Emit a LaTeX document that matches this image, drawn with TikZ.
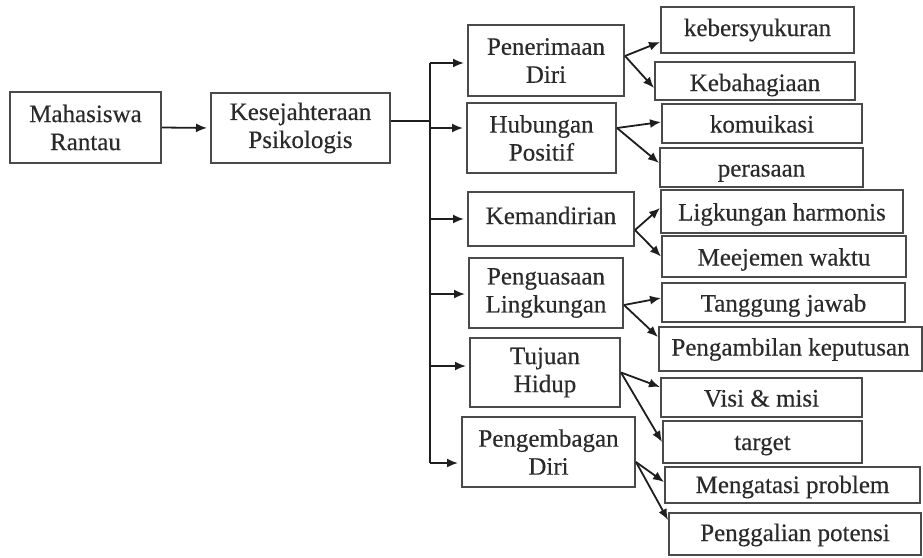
\documentclass[tikz,border=0pt]{standalone}
\usepackage{fontspec}
\setmainfont{Liberation Serif}[FakeBold=0.35]
\usetikzlibrary{arrows.meta}
\definecolor{txt}{HTML}{2A2A2A}
\definecolor{bord}{HTML}{4A4A4A}
\definecolor{ln}{HTML}{1E1E1E}
\begin{document}
\begin{tikzpicture}[x=1pt,y=-1pt,
  box/.style={draw=bord, line width=2pt, fill=white, inner sep=0pt, align=center,
    text=txt, font=\fontsize{25}{28}\selectfont},
  one/.style={box, text height=18pt, text depth=0pt},
  wire/.style={draw=ln, line width=1.8pt},
  arr/.style={wire, -{Latex[length=11pt,width=9pt]}},
  harr/.style={arr, shorten >=3pt}]
\useasboundingbox (0,0) rectangle (923,557);
% main chain
\node[box, minimum width=151pt, minimum height=71pt] (mr) at (85.5,127.5) {Mahasiswa\\Rantau};
\node[box, minimum width=179pt, minimum height=70pt] (kes) at (300.5,128) {Kesejahteraan\\Psikologis};
% aspects
\node[box, minimum width=156pt, minimum height=71pt] (pen) at (546,60.5) {Penerimaan\\Diri};
\node[box, minimum width=149pt, minimum height=70pt] (hub) at (541.5,138) {Hubungan\\Positif};
\node[one, minimum width=166pt, minimum height=54pt, text height=10pt] (kem) at (551,219) {Kemandirian};
\node[box, minimum width=154pt, minimum height=70pt] (pgs) at (546,293) {Penguasaan\\Lingkungan};
\node[box, minimum width=150pt, minimum height=69pt] (tuj) at (545,372.5) {Tujuan\\Hidup};
\node[box, minimum width=173pt, minimum height=70pt] (pgb) at (548.5,452) {Pengembagan\\Diri};
% indicators
\node[one, minimum width=193pt, minimum height=46pt, text height=12pt] (c1) at (757.5,30) {kebersyukuran};
\node[one, minimum width=200pt, minimum height=38pt, text height=20pt] (c2) at (755,81) {Kebahagiaan};
\node[one, minimum width=200pt, minimum height=39pt] (c3) at (762,123.5) {komuikasi};
\node[one, minimum width=203pt, minimum height=39pt] (c4) at (761.5,167.5) {perasaan};
\node[one, minimum width=242pt, minimum height=43pt] (c5) at (782,211.5) {Ligkungan harmonis};
\node[one, minimum width=244pt, minimum height=41pt] (c6) at (784,256.5) {Meejemen waktu};
\node[one, minimum width=243pt, minimum height=39pt] (c7) at (783.5,302.5) {Tanggung jawab};
\node[one, minimum width=263pt, minimum height=44pt, text height=13pt] (c8) at (790.5,349) {Pengambilan keputusan};
\node[one, minimum width=201pt, minimum height=39pt] (c9) at (761.5,397.5) {Visi \& misi};
\node[one, minimum width=199pt, minimum height=42pt, text height=16pt] (c10) at (762.5,442) {target};
\node[one, minimum width=255pt, minimum height=36pt, text height=16pt] (c11) at (792.5,485) {Mengatasi problem};
\node[one, minimum width=252pt, minimum height=42pt, text height=14pt] (c12) at (795,534) {Penggalian potensi};
% trunk
\coordinate (tj) at (430,121);
\coordinate (b1) at (430,63);
\coordinate (b2) at (430,128);
\coordinate (b3) at (430,219);
\coordinate (b4) at (430,294);
\coordinate (b5) at (430,366);
\coordinate (b6) at (430,463);
\draw[harr] (mr.east) -- (kes.west);
\draw[wire] ([yshift=7pt]kes.east) -- (tj);
\draw[wire] (b1) -- (b6);
\draw[harr] (b1) -- (b1 -| pen.west);
\draw[harr] (b2) -- (b2 -| hub.west);
\draw[harr] (b3) -- (b3 -| kem.west);
\draw[harr] (b4) -- (b4 -| pgs.west);
\draw[harr] (b5) -- (b5 -| tuj.west);
\draw[harr] (b6) -- (b6 -| pgb.west);
% aspect to indicator
\draw[arr] ([yshift=4.5pt]pen.east) -- ([yshift=-12pt]c1.west);
\draw[arr] ([yshift=4.5pt]pen.east) -- ([yshift=-7pt]c2.west);
\draw[arr] ([yshift=10pt]hub.east) -- ([yshift=1.5pt]c3.west);
\draw[arr] ([yshift=10pt]hub.east) -- ([yshift=4.5pt]c4.west);
\draw[arr] ([yshift=-11pt]kem.east) -- ([yshift=3.5pt]c5.west);
\draw[arr] ([yshift=-11pt]kem.east) -- (c6.west);
\draw[arr] ([yshift=-12pt]pgs.east) -- ([yshift=4.5pt]c7.west);
\draw[arr] ([yshift=-12pt]pgs.east) -- ([yshift=12pt]c8.west);
\draw[arr] (tuj.east) -- ([yshift=10.5pt]c9.west);
\draw[arr] (tuj.east) -- (c10.west);
\draw[arr] ([yshift=-10pt]pgb.east) -- ([yshift=3pt]c11.west);
\draw[arr] ([yshift=-10pt]pgb.east) -- ([yshift=14pt]c12.west);
\end{tikzpicture}
\end{document}
